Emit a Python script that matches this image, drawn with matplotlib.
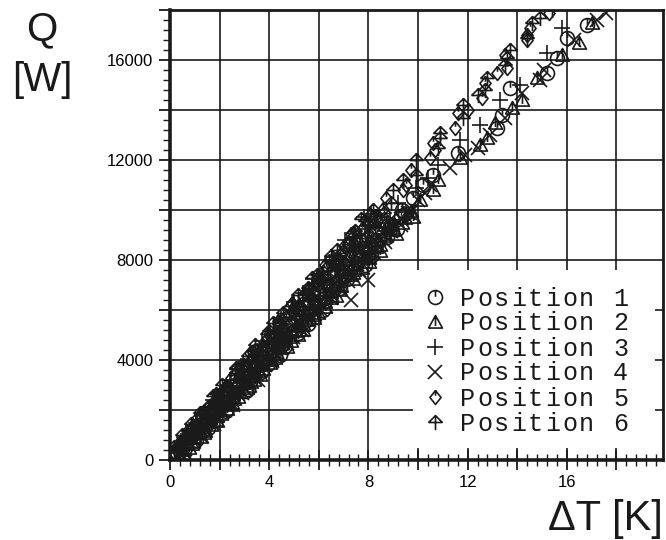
import matplotlib
matplotlib.use("Agg")
import matplotlib.pyplot as plt
from matplotlib.path import Path
from matplotlib.ticker import MultipleLocator, FuncFormatter
from matplotlib.patches import Rectangle

# heat load Q [W] against temperature difference dT [K], six sensor positions, two runs each
dt_pos1 = [0.3, 0.6, 0.5, 1.0, 1.3, 1.2, 1.6, 1.65, 2.3, 1.85, 2.55, 3.05, 2.55, 3.25, 3.25, 2.95, 3.95, 3.75, 3.65,
           4.65, 4.55, 4.35, 5.05, 5.55, 5.05, 5.55, 5.15, 6.25, 6.05, 6.55, 6.05, 7.15, 6.75, 7.3, 6.95, 8.1, 7.75,
           8.3, 7.65, 8.6, 9.15, 8.7, 9.3, 9.35, 9.8, 10.6, 11.6, 13.2, 13.7, 15.6, 16.0, 16.8]
q_pos1 = [250, 480, 700, 950, 1150, 1400, 1600, 1850, 2050, 2300, 2500, 2750, 2950, 3200, 3400, 3650, 3850, 4100,
          4300, 4550, 4750, 5000, 5200, 5450, 5650, 5900, 6100, 6350, 6550, 6800, 7000, 7250, 7450, 7700, 7900, 8150,
          8350, 8600, 8800, 9050, 9250, 9500, 9750, 10000, 10500, 11400, 12300, 13300, 14900, 16100, 16900, 17400]
dt_pos1_b = [0.42, 0.43, 1.03, 0.94, 1.53, 1.54, 1.34, 2.24, 2.04, 2.44, 2.04, 3.14, 2.95, 2.95, 3.65, 2.95, 3.85,
             4.45, 3.86, 4.55, 4.46, 5.15, 4.46, 5.46, 5.36, 6.16, 5.36, 6.16, 5.96, 6.86, 5.97, 7.06, 6.97, 7.86,
             7.07, 7.97, 7.87, 7.27, 8.77, 8.27, 8.88, 8.27, 9.48, 10.2, 13.4, 15.2]
q_pos1_b = [360, 590, 820, 1050, 1270, 1500, 1730, 1950, 2170, 2400, 2620, 2850, 3080, 3300, 3530, 3750, 3980, 4200,
            4430, 4650, 4880, 5100, 5330, 5550, 5780, 6000, 6230, 6450, 6680, 6900, 7130, 7350, 7580, 7800, 8030,
            8250, 8480, 8700, 8930, 9150, 9380, 9600, 9830, 11000, 13800, 15500]

dt_pos2 = [0.36, 0.48, 0.88, 0.99, 1.38, 1.28, 1.88, 1.89, 1.99, 2.4, 2.59, 2.49, 3.09, 3.25, 3.29, 3.6, 3.59, 4.09,
           4.3, 4.4, 4.3, 4.85, 5.1, 5.1, 5.5, 5.8, 5.8, 5.81, 6.5, 6.5, 6.9, 6.71, 7.3, 7.4, 7.41, 8.01, 8.01, 8.3,
           8.11, 8.72, 9.0, 8.94, 9.46, 9.7, 10.1, 10.8, 11.7, 12.5, 13.1, 14.2, 14.8, 15.8, 17.0]
q_pos2 = [180, 420, 650, 880, 1100, 1320, 1550, 1780, 2000, 2220, 2450, 2680, 2900, 3120, 3350, 3580, 3800, 4020,
          4250, 4480, 4700, 4920, 5150, 5380, 5600, 5820, 6050, 6280, 6500, 6720, 6950, 7180, 7400, 7620, 7850, 8080,
          8300, 8520, 8750, 8980, 9200, 9450, 9700, 9950, 10400, 11200, 12100, 12600, 13500, 14400, 15300, 16200,
          17500]
dt_pos2_b = [0.52, 0.78, 0.93, 1.24, 1.43, 1.66, 1.84, 2.07, 2.3, 2.51, 2.73, 2.84, 3.18, 3.4, 3.61, 3.75, 4.05,
             4.25, 4.26, 4.72, 4.86, 5.15, 5.38, 5.36, 5.81, 5.96, 6.26, 6.26, 6.71, 6.86, 6.77, 7.36, 7.37, 7.76,
             8.02, 7.87, 8.45, 8.47, 8.37, 9.12, 8.98, 9.37, 9.78, 10.6, 12.8, 13.8, 16.5]
q_pos2_b = [250, 480, 710, 940, 1160, 1390, 1620, 1840, 2060, 2290, 2510, 2740, 2970, 3190, 3420, 3640, 3870, 4090,
            4320, 4540, 4770, 4990, 5220, 5440, 5670, 5890, 6120, 6340, 6570, 6790, 7020, 7240, 7470, 7690, 7920,
            8140, 8370, 8590, 8820, 9040, 9270, 9490, 9720, 10800, 12900, 14100, 16700]

dt_pos3 = [0.27, 0.4, 0.93, 0.74, 1.24, 1.04, 1.84, 1.64, 2.15, 1.74, 2.44, 2.94, 2.45, 2.95, 3.44, 2.85, 3.75, 3.55,
           4.45, 3.75, 4.46, 4.45, 5.15, 4.46, 5.36, 5.06, 6.05, 5.76, 5.36, 6.46, 6.16, 7.16, 6.37, 7.06, 6.56, 7.77,
           7.37, 7.97, 7.46, 8.67, 8.08, 8.87, 8.09, 9.2, 9.9, 10.8, 12.5, 13.3, 15.2, 15.8]
q_pos3 = [300, 560, 820, 1050, 1280, 1500, 1720, 1950, 2180, 2400, 2620, 2850, 3080, 3300, 3520, 3750, 3980, 4200,
          4420, 4650, 4880, 5100, 5320, 5550, 5780, 6000, 6220, 6450, 6680, 6900, 7120, 7350, 7580, 7800, 8020, 8250,
          8480, 8700, 8920, 9150, 9380, 9600, 9850, 10300, 10900, 11800, 13400, 14400, 16300, 17300]
dt_pos3_b = [0.32, 0.63, 0.58, 1.14, 0.93, 1.44, 1.29, 1.99, 1.84, 2.44, 2.04, 2.69, 2.4, 3.3, 3.15, 2.95, 3.95,
             3.55, 4.16, 3.7, 4.81, 4.45, 5.06, 4.46, 5.66, 5.36, 5.01, 6.31, 5.71, 6.46, 5.77, 7.16, 6.67, 7.36,
             6.52, 8.02, 7.67, 7.07, 8.67, 7.87, 8.78, 7.82, 9.53, 10.4, 11.7, 14.1]
q_pos3_b = [470, 700, 930, 1160, 1380, 1610, 1840, 2060, 2280, 2510, 2730, 2960, 3190, 3410, 3640, 3860, 4090, 4310,
            4540, 4760, 4990, 5210, 5440, 5660, 5890, 6110, 6340, 6560, 6790, 7010, 7240, 7460, 7690, 7910, 8140,
            8360, 8590, 8810, 9040, 9260, 9490, 9710, 9940, 11300, 12800, 15000]

dt_pos4 = [0.48, 0.6, 0.73, 1.25, 1.27, 1.79, 1.62, 2.14, 2.56, 2.39, 2.91, 2.93, 3.56, 3.48, 3.4, 4.13, 4.3, 4.27,
           4.7, 4.62, 5.34, 5.27, 5.7, 5.81, 5.74, 7.3, 6.54, 6.85, 6.78, 8.0, 7.31, 7.13, 7.85, 7.78, 7.7, 8.32,
           8.35, 8.9, 8.99, 8.92, 9.6, 10.0, 10.5, 11.3, 12.4, 13.5, 14.2, 15.1, 16.3, 17.2]
q_pos4 = [200, 450, 700, 950, 1200, 1450, 1700, 1950, 2200, 2450, 2700, 2950, 3200, 3450, 3700, 3950, 4200, 4450,
          4700, 4950, 5200, 5450, 5700, 5950, 6200, 6400, 6650, 6900, 7150, 7200, 7400, 7650, 7900, 8150, 8400, 8650,
          8900, 9150, 9400, 9650, 9900, 10400, 11000, 11700, 12500, 13700, 14700, 15600, 16800, 17600]
dt_pos4_b = [0.47, 0.63, 0.98, 1.09, 1.43, 1.54, 1.89, 1.89, 2.24, 2.34, 2.74, 2.99, 3.0, 3.4, 3.45, 3.85, 3.9,
             3.95, 4.51, 4.55, 4.96, 4.85, 5.31, 5.61, 5.51, 6.06, 6.06, 6.51, 6.36, 6.76, 7.17, 7.06, 7.62, 7.56,
             7.57, 8.22, 8.17, 8.67, 8.67, 8.67, 9.33, 9.32, 9.68, 10.3, 11.9, 12.9, 14.9, 17.6]
q_pos4_b = [400, 630, 860, 1090, 1310, 1540, 1770, 1990, 2210, 2440, 2660, 2890, 3120, 3340, 3570, 3790, 4020, 4240,
            4470, 4690, 4920, 5140, 5370, 5590, 5820, 6040, 6270, 6490, 6720, 6940, 7170, 7390, 7620, 7840, 8070,
            8290, 8520, 8740, 8970, 9190, 9420, 9640, 9870, 10700, 12200, 13000, 15200, 17900]

dt_pos5 = [0.17, 0.49, 0.51, 0.84, 0.86, 1.38, 1.21, 1.63, 1.95, 1.88, 2.2, 2.72, 2.45, 2.97, 2.99, 3.52, 3.24, 3.76,
           4.29, 4.01, 4.53, 4.36, 4.78, 5.3, 4.93, 5.55, 5.57, 6.29, 5.92, 6.54, 6.26, 6.79, 7.31, 7.03, 7.56, 7.28,
           7.8, 8.33, 8.05, 8.57, 8.7, 9.5, 9.7, 10.5, 10.6, 11.5, 11.6, 12.6, 12.7, 13.6, 13.5, 14.4, 14.5, 15.3]
q_pos5 = [300, 550, 800, 1050, 1300, 1550, 1800, 2050, 2300, 2550, 2800, 3050, 3300, 3550, 3800, 4050, 4300, 4550,
          4800, 5050, 5300, 5550, 5800, 6050, 6300, 6550, 6800, 7050, 7300, 7550, 7800, 8050, 8300, 8550, 8800, 9050,
          9300, 9550, 9800, 10050, 10500, 11000, 11600, 12100, 12700, 13300, 13900, 14500, 15100, 15700, 16200,
          16800, 17300, 17900]
dt_pos5_b = [0.22, 0.33, 0.73, 0.64, 0.98, 0.99, 1.49, 1.34, 1.74, 2.04, 1.89, 2.29, 2.25, 2.95, 2.8, 2.8, 3.4, 3.3,
             3.36, 3.9, 4.31, 4.05, 4.46, 4.36, 5.06, 4.96, 5.01, 5.56, 5.36, 5.81, 6.37, 6.06, 6.52, 6.31, 6.77,
             7.27, 6.97, 7.47, 7.47, 8.02, 7.73, 8.22, 8.23, 9.4, 10.7, 12.0, 13.2, 14.4]
q_pos5_b = [240, 470, 700, 930, 1150, 1380, 1610, 1830, 2050, 2280, 2500, 2730, 2960, 3180, 3410, 3630, 3860, 4080,
            4310, 4530, 4760, 4980, 5210, 5430, 5660, 5880, 6110, 6330, 6560, 6780, 7010, 7230, 7460, 7680, 7910,
            8130, 8360, 8580, 8810, 9030, 9260, 9480, 9710, 10800, 12400, 14000, 15500, 17000]

dt_pos6 = [0.16, 0.68, 0.7, 0.73, 1.35, 1.07, 1.6, 1.62, 2.34, 1.87, 2.39, 2.91, 2.64, 2.66, 3.48, 3.41, 3.43, 4.25,
           4.18, 4.0, 4.42, 5.04, 4.57, 5.19, 5.81, 5.44, 5.56, 6.18, 5.91, 6.83, 6.65, 6.48, 7.2, 7.22, 7.85, 7.47,
           7.99, 7.72, 8.64, 8.9, 9.0, 9.9, 9.9, 10.8, 10.9, 11.8, 11.8, 12.7, 12.8, 13.5, 13.7, 14.4, 14.6, 15.4]
q_pos6 = [400, 650, 900, 1150, 1400, 1650, 1900, 2150, 2400, 2650, 2900, 3150, 3400, 3650, 3900, 4150, 4400, 4650,
          4900, 5150, 5400, 5650, 5900, 6150, 6400, 6650, 6900, 7150, 7400, 7650, 7900, 8150, 8400, 8650, 8900, 9150,
          9400, 9650, 9900, 10300, 10800, 11400, 12000, 12500, 13100, 13700, 14200, 14800, 15300, 15800, 16400,
          16900, 17500, 18000]
dt_pos6_b = [0.17, 0.58, 0.48, 0.84, 0.83, 1.44, 1.19, 1.54, 1.94, 1.74, 2.19, 2.09, 2.8, 2.65, 2.65, 3.25, 3.15,
             3.85, 3.41, 3.9, 3.91, 4.55, 4.16, 4.66, 5.01, 4.86, 5.61, 5.16, 5.61, 5.96, 5.72, 6.16, 6.77, 6.41,
             6.87, 6.72, 7.42, 7.32, 7.37, 8.27, 7.88, 8.32, 8.18, 9.4, 10.9, 12.4, 13.6, 14.9]
q_pos6_b = [530, 760, 990, 1220, 1440, 1670, 1900, 2120, 2340, 2570, 2790, 3020, 3250, 3470, 3700, 3920, 4150, 4370,
            4600, 4820, 5050, 5270, 5500, 5720, 5950, 6170, 6400, 6620, 6850, 7070, 7300, 7520, 7750, 7970, 8200,
            8420, 8650, 8870, 9100, 9320, 9550, 9770, 10000, 11200, 12900, 14600, 16100, 17700]

labels = ["Position 1", "Position 2", "Position 3", "Position 4", "Position 5", "Position 6"]

M, L = Path.MOVETO, Path.LINETO


def open_path(pts):
    return Path(pts, [M] + [L] * (len(pts) - 1))


# plotter-style marker symbols
circ = Path.unit_circle()
m_circle = Path.make_compound_path(circ, open_path([(0, 1), (0, 0.1)]))
m_tri = Path.make_compound_path(open_path([(-1, -0.8), (0, 1), (1, -0.8), (-1, -0.8)]),
                                open_path([(0, 0.7), (0, -0.5)]))
m_diam = Path.make_compound_path(open_path([(0, 1), (0.8, 0), (0, -1), (-0.8, 0), (0, 1)]),
                                 open_path([(0, 1), (0, 0.25)]))
m_arrow = Path.make_compound_path(open_path([(-0.9, 0), (0, 0.9), (0.9, 0)]),
                                  open_path([(-0.9, 0), (0.9, 0)]),
                                  open_path([(0, 0.9), (0, -1)]))
markers = [m_circle, m_tri, "+", "x", m_diam, m_arrow]
sizes = [10, 10, 12, 10, 10, 11]

series = [(dt_pos1 + dt_pos1_b, q_pos1 + q_pos1_b),
          (dt_pos2 + dt_pos2_b, q_pos2 + q_pos2_b),
          (dt_pos3 + dt_pos3_b, q_pos3 + q_pos3_b),
          (dt_pos4 + dt_pos4_b, q_pos4 + q_pos4_b),
          (dt_pos5 + dt_pos5_b, q_pos5 + q_pos5_b),
          (dt_pos6 + dt_pos6_b, q_pos6 + q_pos6_b)]

ink = "#1a1a1a"

fig = plt.figure(figsize=(6.66, 5.40), dpi=100)
ax = fig.add_axes([170 / 666, 80 / 540, 493 / 666, 450 / 540])

for (x, y), mk, ms in zip(series, markers, sizes):
    ax.plot(x, y, ls="none", marker=mk, ms=ms, mfc="none", mec=ink, mew=1.2)

ax.set_xlim(0, 19.88)
ax.set_ylim(0, 18000)

ax.xaxis.set_major_locator(MultipleLocator(2))
ax.xaxis.set_minor_locator(MultipleLocator(0.4))
ax.yaxis.set_major_locator(MultipleLocator(2000))
ax.yaxis.set_minor_locator(MultipleLocator(400))
ax.xaxis.set_major_formatter(FuncFormatter(lambda v, p: f"{v:.0f}" if round(v) % 4 == 0 else ""))
ax.yaxis.set_major_formatter(FuncFormatter(lambda v, p: f"{v:.0f}" if round(v) % 4000 == 0 else ""))

ax.grid(True, which="major", color=ink, lw=1.2)
ax.set_axisbelow(True)

for lab in ax.get_xticklabels() + ax.get_yticklabels():
    lab.set_fontfamily(["Liberation Sans Narrow", "Liberation Sans"])
    lab.set_fontsize(12)
ax.tick_params(axis="x", which="major", direction="inout", length=14, width=1.3, color=ink, pad=4)
ax.tick_params(axis="x", which="minor", direction="inout", length=8, width=1.0, color=ink)
ax.tick_params(axis="y", which="major", direction="out", length=8, width=1.3, color=ink, pad=4)
ax.tick_params(axis="y", which="minor", direction="out", length=5, width=1.0, color=ink)

for side, w in [("left", 2.6), ("bottom", 2.6), ("top", 2.0), ("right", 2.0)]:
    ax.spines[side].set_linewidth(w)
    ax.spines[side].set_color(ink)

# legend box, spaced like a pen plotter
ax.add_patch(Rectangle((0.493, 0.027), 0.491, 0.395, transform=ax.transAxes,
                       facecolor="white", edgecolor="none", zorder=3))
rows = [0.362, 0.3067, 0.251, 0.1956, 0.14, 0.0844]
for yr, mk, ms, lab in zip(rows, markers, sizes, labels):
    ax.plot([0.5375], [yr], transform=ax.transAxes, ls="none", marker=mk, ms=ms,
            mfc="none", mec=ink, mew=1.2, zorder=4, clip_on=False)
    for i, ch in enumerate(lab):
        ax.text(0.588 + i * 0.0345, yr - 0.0189, ch, transform=ax.transAxes,
                family="Liberation Mono", fontsize=18, color=ink, ha="left", va="baseline", zorder=5)

fig.text(42 / 666, 1 - 29 / 540, "Q", fontsize=29, family="Liberation Sans", ha="center", va="center", color=ink)
fig.text(42 / 666, 1 - 80 / 540, "[W]", fontsize=29, family="Liberation Sans", ha="center", va="center", color=ink)
fig.text(663 / 666, 1 - 519 / 540, "\u0394T [K]", fontsize=30, family="Liberation Sans", ha="right", va="center",
         color=ink)

fig.savefig("out.png", dpi=100)
